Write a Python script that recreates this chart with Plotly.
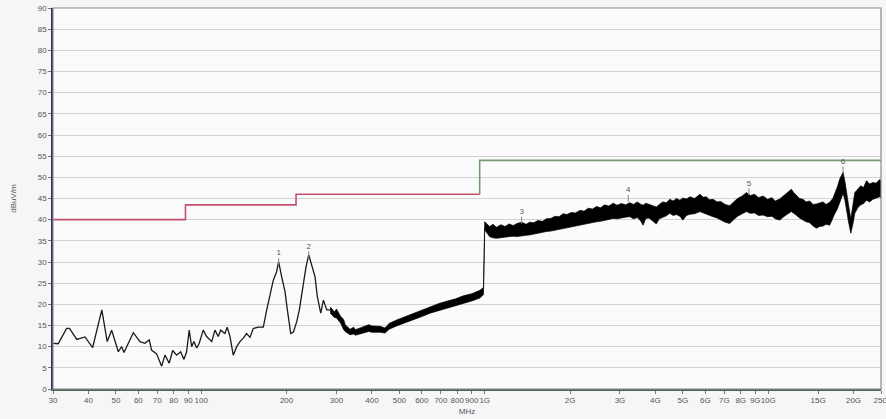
import plotly.graph_objects as go

low_freq = [30, 31.3, 33.5, 34.3, 36.4, 37.9, 38.9, 41.4, 44.6, 46.6,
            48.3, 51, 52.4, 53.4, 57.6, 60.8, 63.3, 65.6, 66.8, 69.6,
            72.5, 74.5, 77.1, 79.3, 81.9, 84.6, 86.9, 88.8, 90.7, 92.5,
            94.2, 96.4, 98.4, 101.6, 104.5, 108.9, 111.8, 114.8, 117.1, 121.2,
            123.5, 126.3, 129.7, 133.4, 137, 140.7, 144.6, 148.6, 152.6, 159,
            165.6, 170.2, 174.8, 179.6, 184.5, 187.5, 192.2, 197.5, 201.3, 206.9,
            211.3, 217.2, 221.9, 229.2, 234.3, 239.4, 245.4, 252.1, 256.8, 264,
            269.8, 277.3, 285]
low_level = [10.8, 10.7, 14.3, 14.3, 11.7, 12.0, 12.3, 9.8, 18.7, 11.2,
             13.9, 8.8, 10.0, 8.6, 13.3, 11.2, 10.8, 11.6, 9.2, 8.3,
             5.4, 8.0, 6.1, 9.1, 8.0, 8.8, 7.0, 8.8, 13.9, 10.0,
             11.2, 9.7, 10.8, 13.9, 12.4, 11.2, 13.9, 12.4, 13.9, 13.1,
             14.6, 12.4, 8.0, 10.0, 11.2, 12.0, 13.1, 12.2, 14.3, 14.6,
             14.6, 18.7, 22.6, 25.7, 27.7, 30.1, 26.5, 23.0, 18.7, 13.1,
             13.4, 15.9, 18.7, 25.0, 28.9, 31.7, 28.9, 26.5, 21.8, 17.9,
             21.0, 18.7, 18.7]

# Noisy part of the scan: upper / lower edge of the black band
band_freq = [285, 295, 300, 310, 318, 322, 335, 345, 350, 373,
             390, 400, 428, 445, 460, 489, 520, 560, 600, 641,
             690, 733, 790, 840, 900, 962, 990, 1000, 1020, 1040,
             1070, 1100, 1140, 1180, 1220, 1260, 1300, 1350, 1400, 1440,
             1490, 1540, 1600, 1650, 1710, 1770, 1830, 1890, 1950, 2020,
             2090, 2170, 2240, 2320, 2400, 2480, 2560, 2650, 2740, 2840,
             2930, 3030, 3140, 3250, 3350, 3450, 3540, 3620, 3700, 3800,
             3900, 4030, 4130, 4250, 4370, 4500, 4620, 4750, 4880, 5000,
             5150, 5300, 5500, 5740, 5900, 6050, 6200, 6390, 6600, 6800,
             7050, 7320, 7550, 7800, 8100, 8380, 8650, 8950, 9250, 9590,
             9950, 10300, 10600, 10980, 11500, 12070, 12300, 12600, 12900, 13270,
             13600, 14000, 14400, 14790, 15200, 15600, 16000, 16480, 16900, 17200,
             17550, 17880, 18370, 18650, 18880, 19200, 19560, 19900, 20210, 20700,
             21200, 21700, 22220, 22800, 23400, 24000, 24760, 25000]
band_hi = [19.4, 18.2, 18.9, 17.2, 16.4, 15.2, 14.1, 14.6, 14.0, 14.7,
           15.2, 14.9, 14.8, 14.4, 15.5, 16.3, 17.0, 17.8, 18.7, 19.5,
           20.2, 20.7, 21.3, 22.0, 22.5, 23.3, 24.0, 39.5, 39.0, 38.4,
           38.9, 38.2, 38.8, 38.4, 39.0, 38.6, 39.1, 39.4, 38.9, 39.4,
           39.3, 39.8, 39.6, 40.2, 40.3, 40.8, 40.7, 41.4, 41.2, 41.7,
           41.6, 42.2, 42.0, 42.7, 42.5, 43.1, 42.8, 43.5, 43.2, 43.9,
           43.4, 43.8, 43.5, 44.0, 43.6, 44.2, 43.7, 43.4, 43.9, 43.6,
           43.2, 43.0, 43.6, 44.2, 44.0, 44.8, 44.4, 45.0, 44.6, 45.1,
           44.9, 45.4, 45.0, 46.0, 45.3, 45.4, 44.7, 44.8, 44.2, 44.3,
           43.6, 43.3, 44.2, 45.0, 45.6, 46.4, 45.7, 46.0, 45.2, 45.6,
           44.8, 45.2, 44.4, 44.9, 46.0, 47.2, 46.4, 45.8, 45.0, 44.8,
           44.2, 44.4, 43.6, 43.7, 43.9, 44.2, 43.6, 44.1, 45.0, 46.2,
           47.8, 49.6, 51.2, 49.0, 47.0, 43.5, 40.2, 43.5, 46.4, 47.2,
           48.0, 47.6, 49.2, 48.4, 48.8, 48.6, 49.5, 49.2]
band_lo = [17.9, 16.9, 16.8, 15.6, 14.0, 13.6, 12.8, 13.0, 12.7, 13.3,
           13.6, 13.4, 13.4, 13.2, 14.1, 14.9, 15.6, 16.4, 17.1, 17.9,
           18.6, 19.1, 19.7, 20.2, 20.8, 21.5, 22.3, 37.6, 36.8, 36.0,
           35.7, 35.6, 35.8, 35.9, 36.0, 36.1, 36.0, 36.2, 36.3, 36.4,
           36.5, 36.8, 37.0, 37.2, 37.3, 37.6, 37.8, 38.0, 38.1, 38.3,
           38.5, 38.7, 38.9, 39.1, 39.3, 39.5, 39.6, 39.9, 40.0, 40.3,
           40.2, 40.4, 40.6, 40.7, 40.2, 40.5, 39.8, 38.7, 40.3, 40.4,
           39.9, 39.0, 40.2, 40.5, 40.9, 41.5, 41.0, 41.2, 40.8, 39.9,
           41.0, 41.3, 41.4, 41.9, 41.6, 41.4, 41.0, 40.7, 40.4, 40.0,
           39.4, 39.1, 40.0, 40.8, 41.4, 41.9, 41.5, 41.6, 41.0, 41.1,
           40.7, 40.8, 40.2, 39.9, 41.0, 41.9, 41.5, 41.0, 40.4, 39.9,
           39.5, 39.3, 38.5, 38.0, 38.4, 38.5, 38.9, 38.7, 40.2, 41.5,
           42.6, 43.9, 46.2, 44.6, 43.1, 39.5, 36.8, 39.0, 41.5, 42.8,
           43.5, 43.8, 44.6, 44.2, 44.8, 45.0, 45.4, 45.2]

# Limit lines
limit_low_freq = [30, 88, 88, 216, 216, 960]
limit_low_level = [40, 40, 43.5, 43.5, 46, 46]
limit_high_freq = [960, 960, 25000]
limit_high_level = [46, 54, 54]

# Peak markers
mark_freq = [187.5, 239.4, 1350, 3209, 8551, 18370]
mark_level = [30.1, 31.7, 39.9, 45.0, 46.6, 51.7]
mark_text = ["1", "2", "3", "4", "5", "6"]

tick_vals = [30, 40, 50, 60, 70, 80, 90, 100, 200, 300, 400, 500, 600, 700, 800, 900,
             1000, 2000, 3000, 4000, 5000, 6000, 7000, 8000, 9000, 10000, 15000, 20000, 25000]
tick_text = ["30", "40", "50", "60", "70", "80", "90", "100", "200", "300", "400", "500",
             "600", "700", "800", "900", "1G", "2G", "3G", "4G", "5G", "6G", "7G", "8G",
             "9G", "10G", "15G", "20G", "25G"]

font = dict(family="Liberation Sans", size=8, color="#555555")

fig = go.Figure()

fig.add_trace(go.Scatter(
    x=limit_low_freq, y=limit_low_level, mode="lines",
    line=dict(color="#c4506c", width=1.6), showlegend=False))
fig.add_trace(go.Scatter(
    x=limit_high_freq, y=limit_high_level, mode="lines",
    line=dict(color="#739a73", width=1.6), showlegend=False))

fig.add_trace(go.Scatter(
    x=low_freq, y=low_level, mode="lines",
    line=dict(color="#1a1a1a", width=1.3), showlegend=False))

# noisy band drawn as a filled envelope
fig.add_trace(go.Scatter(
    x=band_freq + band_freq[::-1], y=band_hi + band_lo[::-1],
    mode="lines", fill="toself", fillcolor="#000000",
    line=dict(color="#000000", width=0.7), showlegend=False))

fig.add_trace(go.Scatter(
    x=mark_freq, y=mark_level, mode="markers+text",
    text=mark_text, textposition="top center",
    textfont=dict(family="Liberation Sans", size=8, color="#555555"),
    marker=dict(symbol="line-ns", size=5, line=dict(color="#888888", width=1)),
    showlegend=False))

fig.update_layout(
    width=886, height=419,
    margin=dict(l=53, r=5, t=8, b=30),
    paper_bgcolor="#f6f6f6",
    plot_bgcolor="#fbfbfb",
    font=font,
    xaxis=dict(
        type="log", range=[1.47712, 4.39795],
        tickvals=tick_vals, ticktext=tick_text, tickangle=0,
        ticklabeloverflow="allow", automargin=False,
        showgrid=False, zeroline=False,
        showline=True, linecolor="#4f6458", linewidth=1.5,
        ticks="outside", ticklen=3, tickcolor="#777777",
        title=dict(text="MHz", font=font, standoff=4),
        tickfont=font,
    ),
    yaxis=dict(
        range=[0, 90], dtick=5, tick0=0,
        showgrid=True, gridcolor="#d2d2d2", gridwidth=1,
        zeroline=False,
        showline=True, linecolor="#2b2f70", linewidth=1.5,
        ticks="outside", ticklen=3, tickcolor="#777777",
        title=dict(text="dBuV/m", font=font, standoff=20),
        tickfont=font,
    ),
    shapes=[dict(type="rect", xref="paper", yref="paper", x0=0, x1=1, y0=0, y1=1,
                 line=dict(color="#8a8a8a", width=1.2), layer="above")],
)

fig.write_html("out.html", config={"displayModeBar": False},
               post_script="document.body.style.margin='0';")
